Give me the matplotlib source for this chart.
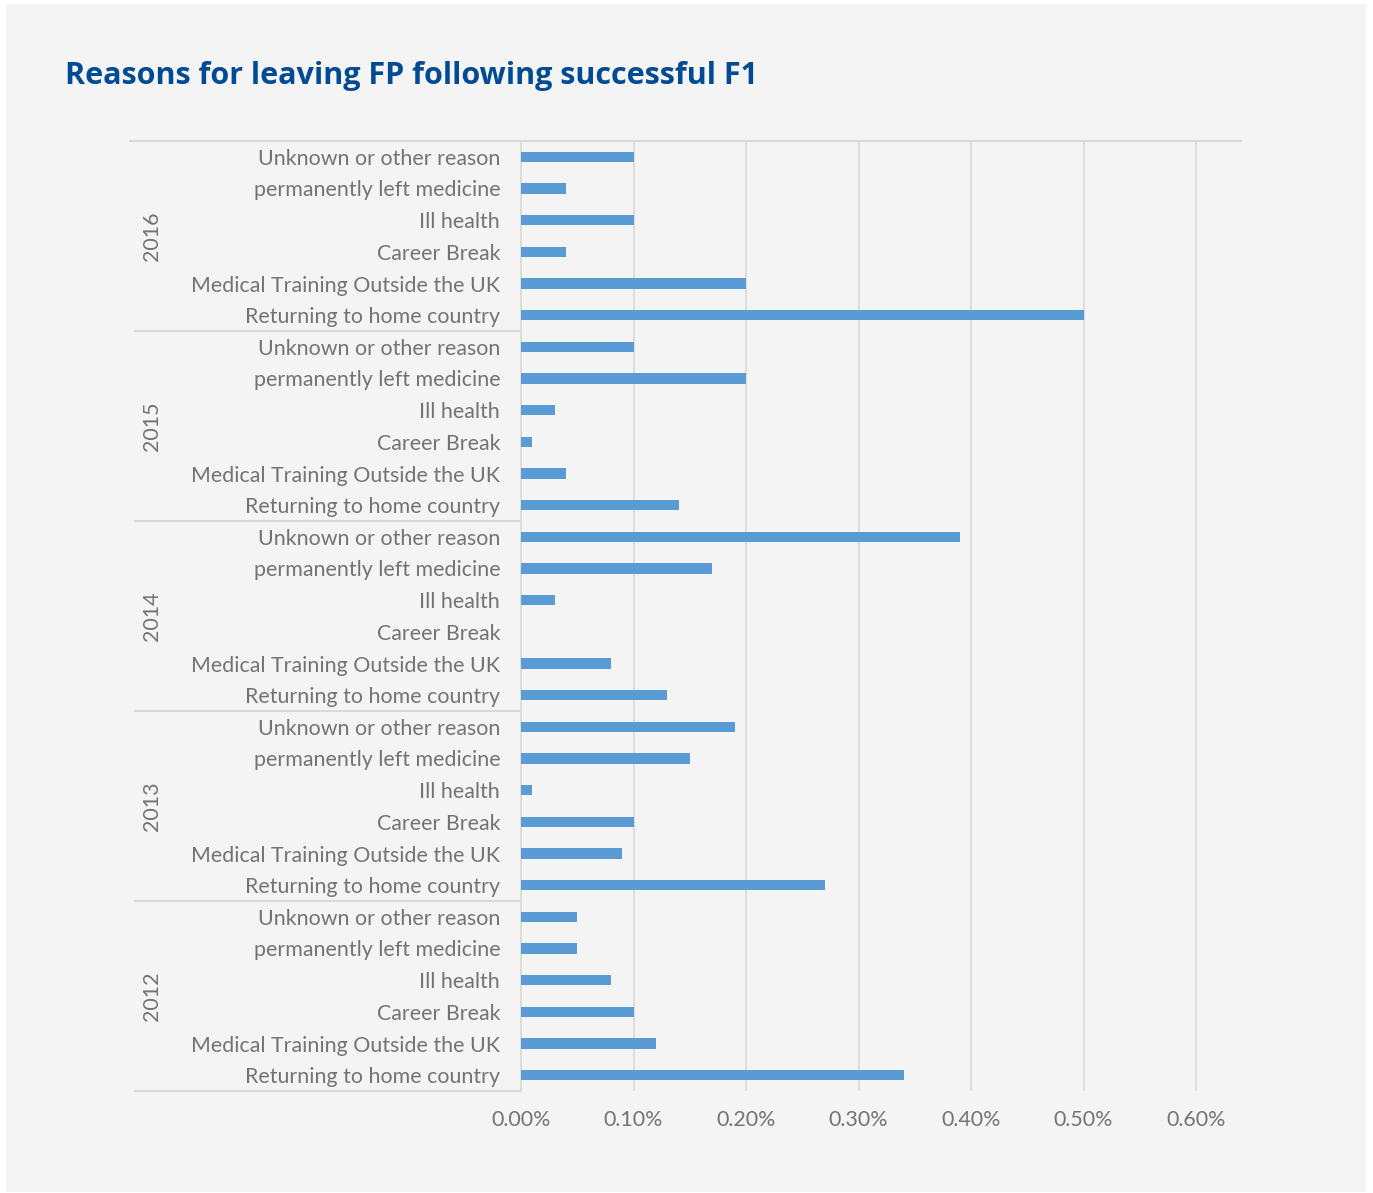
import matplotlib
matplotlib.use("Agg")
import matplotlib.pyplot as plt
from matplotlib.patches import Rectangle
from matplotlib.lines import Line2D
from matplotlib.ticker import FuncFormatter

# Reasons listed bottom-to-top within each year block
reasons = [
    "Returning to home country",
    "Medical Training Outside the UK",
    "Career Break",
    "Ill health",
    "permanently left medicine",
    "Unknown or other reason",
]
years = ["2012", "2013", "2014", "2015", "2016"]

# Percentage of F1 completers leaving FP, by reason (same order as `reasons`)
pct_2012 = [0.34, 0.12, 0.10, 0.08, 0.05, 0.05]
pct_2013 = [0.27, 0.09, 0.10, 0.01, 0.15, 0.19]
pct_2014 = [0.13, 0.08, 0.00, 0.03, 0.17, 0.39]
pct_2015 = [0.14, 0.04, 0.01, 0.03, 0.20, 0.10]
pct_2016 = [0.50, 0.20, 0.04, 0.10, 0.04, 0.10]
values_by_year = [pct_2012, pct_2013, pct_2014, pct_2015, pct_2016]

x_ticks = [0.0, 0.1, 0.2, 0.3, 0.4, 0.5, 0.6]

BAR = "#5b9bd5"
TXT = "#737373"
GRID = "#d9d9d9"
PANEL = "#f4f4f4"
TITLE = "#004b93"
FONT = ["Lato", "DejaVu Sans"]
FS = 15.4

W, H = 1373, 1193
fig = plt.figure(figsize=(W / 100, H / 100), dpi=100, facecolor="white")
fig.patches.append(Rectangle((6 / W, 1 - 1192 / H), 1360 / W, 1188 / H,
                             transform=fig.transFigure, facecolor=PANEL,
                             edgecolor="none", zorder=-10))

left, right, top, bottom = 521, 1241, 141, 1091
ax = fig.add_axes([left / W, 1 - bottom / H, (right - left) / W, (bottom - top) / H])
ax.set_facecolor("none")

n = len(reasons)
ypos, vals, labels = [], [], []
for g, vlist in enumerate(values_by_year):
    for i, v in enumerate(vlist):
        ypos.append(g * n + i)
        vals.append(v)
        labels.append(reasons[i])

ax.barh(ypos, vals, height=0.33, color=BAR, zorder=3)
ax.set_ylim(-0.5, len(ypos) - 0.5)
ax.set_xlim(0, 0.64)
ax.set_xticks(x_ticks)
ax.xaxis.set_major_formatter(FuncFormatter(lambda v, p: f"{v:.2f}%"))
ax.set_yticks(ypos)
ax.set_yticklabels(labels)

for s in ["top", "right", "bottom"]:
    ax.spines[s].set_visible(False)
ax.spines["left"].set_color(GRID)
ax.spines["left"].set_linewidth(1.2)

ax.grid(axis="x", color=GRID, linewidth=1.2, zorder=0)
ax.tick_params(axis="both", length=0, colors=TXT, labelsize=FS)
ax.tick_params(axis="y", pad=15)
ax.tick_params(axis="x", pad=14)
for lab in ax.get_xticklabels() + ax.get_yticklabels():
    lab.set_family(FONT)
    lab.set_color(TXT)

# Year group separators and labels on the left
trans = ax.get_yaxis_transform()
x_sep = (135 - left) / (right - left)
for g in range(len(years) + 1):
    yb = g * n - 0.5
    x0 = (130 - left) / (right - left) if g == len(years) else x_sep
    x1 = 1.0 if g == len(years) else 0.0
    ax.add_line(Line2D([x0, x1], [yb, yb], transform=trans, color=GRID,
                       linewidth=1.5, clip_on=False, zorder=2))
for g, yr in enumerate(years):
    yc = g * n + (n - 1) / 2
    ax.text((152 - left) / (right - left), yc, yr, transform=trans,
            rotation=90, ha="center", va="center", fontsize=FS,
            color=TXT, family=FONT)

fig.text(65 / W, 1 - 76 / H, "Reasons for leaving FP following successful F1",
         fontsize=22, fontweight="bold", color=TITLE, ha="left", va="center",
         family=["Open Sans", "DejaVu Sans"])

fig.savefig("out.png", dpi=100, facecolor="white")
